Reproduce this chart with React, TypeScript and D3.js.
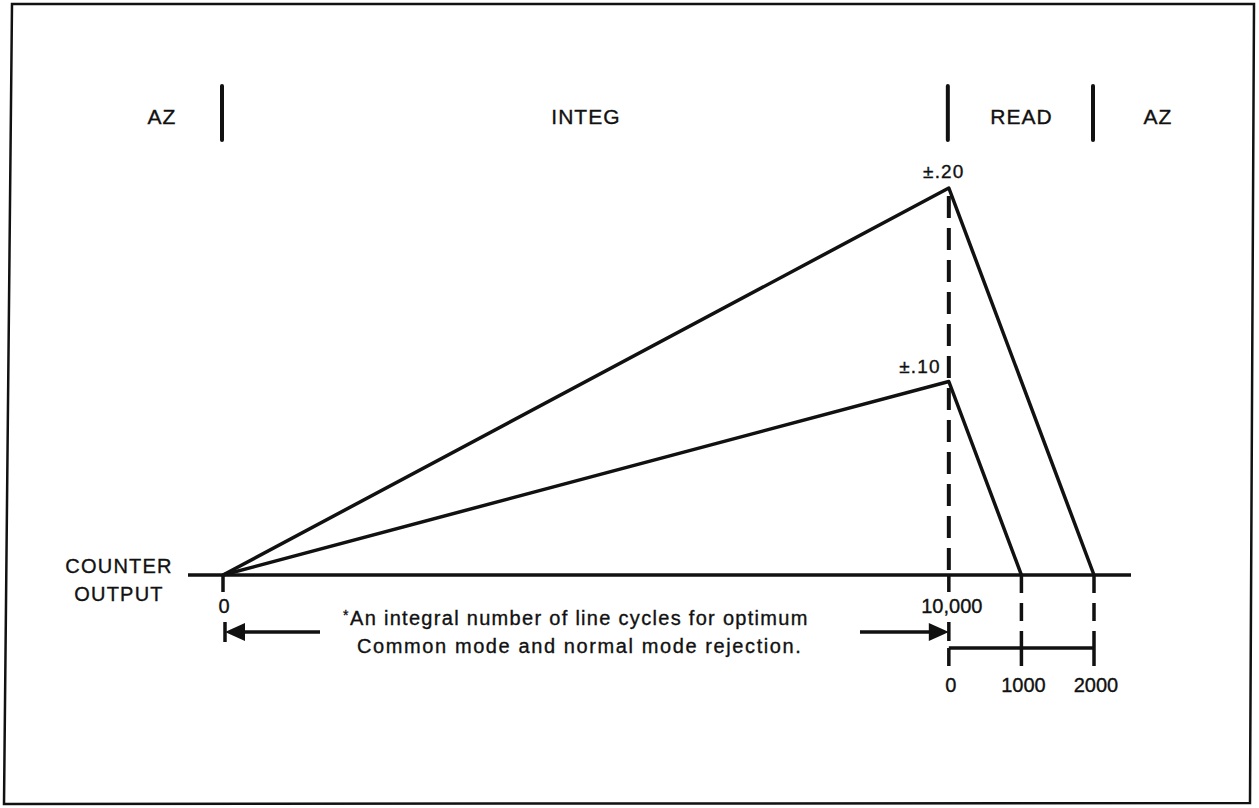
import React from "react";
import * as d3 from "d3";

// ---- data ----
const phaseNames = ["AZ", "INTEG", "READ", "AZ"];
const phaseBounds = [0, 10000, 12000]; // counts where phase changes
const upperSeries: [number, number][] = [[0, 0], [10000, 0.2], [12000, 0]];
const lowerSeries: [number, number][] = [[0, 0], [10000, 0.1], [11000, 0]];
const peakLabels = ["\u00B1.20", "\u00B1.10"];
const integTicks = [0, 10000];
const integTickLabels = ["0", "10,000"];
const readTicks = [0, 1000, 2000];
const readTickLabels = ["0", "1000", "2000"];
const yLabelLines = ["COUNTER", "OUTPUT"];
const noteLines = ["An integral number of line cycles for optimum", "Common mode and normal mode rejection."];

const W = 1259;
const H = 808;
const FONT = "'Liberation Sans', Arial, Helvetica, sans-serif";

export default function App() {
  const x = d3.scaleLinear().domain([0, 12000]).range([223, 1094]);
  const y = d3.scaleLinear().domain([0, 0.2]).range([575, 188]);
  const line = d3.line<[number, number]>().x((d) => x(d[0])).y((d) => y(d[1]));

  const baseY = y(0);
  const readStart = phaseBounds[1];
  const arrowY = 632;
  const bracketY = 648;

  const lx = x(0) + 2;
  const rx = x(10000);

  const txt = { fontFamily: FONT, fill: "#111", stroke: "#111", strokeWidth: 0.35 } as const;
  const SW = 3.5;

  return (
    <svg width={W} height={H} style={{ position: "absolute", left: 0, top: 0, background: "#fff" }}>
      {/* frame */}
      <path d="M12,4 L1254,4 L1250,803 L4,804 Z" fill="none" stroke="#111" strokeWidth={2.5} />

      {/* phase bars and labels */}
      {phaseBounds.map((b, i) => (
        <line key={"pb" + i} x1={x(b) - 1} x2={x(b) - 1} y1={86} y2={140} stroke="#111" strokeWidth={4} strokeLinecap="round" />
      ))}
      {phaseNames.map((n, i) => {
        const left = i === 0 ? x(0) - 122 : x(phaseBounds[i - 1]);
        const right = i === phaseNames.length - 1 ? x(12000) + 128 : x(phaseBounds[i]);
        return (
          <text key={"pn" + i} x={(left + right) / 2} y={124} textAnchor="middle" fontSize={21} letterSpacing={1} {...txt}>
            {n}
          </text>
        );
      })}

      {/* baseline */}
      <line x1={188} x2={1131} y1={baseY} y2={baseY} stroke="#111" strokeWidth={SW} />

      {/* dashed verticals */}
      <line x1={x(10000)} x2={x(10000)} y1={y(0.2) + 8} y2={baseY} stroke="#111" strokeWidth={4} strokeDasharray="22 10" />
      {readTicks.slice(1).map((t, i) => (
        <line key={"rd" + i} x1={x(readStart + t)} x2={x(readStart + t)} y1={baseY} y2={bracketY} stroke="#111" strokeWidth={3.5} strokeDasharray="18 10" />
      ))}

      {/* series */}
      <path d={line(upperSeries) || ""} fill="none" stroke="#111" strokeWidth={SW} strokeLinejoin="round" />
      <path d={line(lowerSeries) || ""} fill="none" stroke="#111" strokeWidth={SW} strokeLinejoin="round" />

      {/* peak labels */}
      <text x={x(10000) - 5} y={y(0.2) - 10} textAnchor="middle" fontSize={19} letterSpacing={1.2} {...txt}>
        {peakLabels[0]}
      </text>
      <text x={x(10000) - 8} y={y(0.1) - 9} textAnchor="end" fontSize={19} letterSpacing={1.2} {...txt}>
        {peakLabels[1]}
      </text>

      {/* integ ticks */}
      {integTicks.map((t, i) => (
        <g key={"it" + i}>
          <line x1={x(t)} x2={x(t)} y1={baseY} y2={592} stroke="#111" strokeWidth={SW} />
          <text x={x(t) + (i === 0 ? 1 : 3)} y={613} textAnchor="middle" fontSize={20} {...txt}>
            {integTickLabels[i]}
          </text>
        </g>
      ))}

      {/* y label */}
      {yLabelLines.map((l, i) => (
        <text key={"yl" + i} x={119} y={573 + i * 28} textAnchor="middle" fontSize={20} letterSpacing={1.2} {...txt}>
          {l}
        </text>
      ))}

      {/* arrows */}
      <line x1={lx} x2={lx} y1={arrowY - 10} y2={arrowY + 10} stroke="#111" strokeWidth={SW} />
      <path d={`M${lx},${arrowY} L${lx + 20},${arrowY - 9} L${lx + 20},${arrowY + 9} Z`} fill="#111" />
      <line x1={lx + 18} x2={320} y1={arrowY} y2={arrowY} stroke="#111" strokeWidth={SW} />

      <line x1={rx} x2={rx} y1={arrowY - 10} y2={arrowY + 9} stroke="#111" strokeWidth={SW} />
      <path d={`M${rx},${arrowY} L${rx - 20},${arrowY - 9} L${rx - 20},${arrowY + 9} Z`} fill="#111" />
      <line x1={860} x2={rx - 18} y1={arrowY} y2={arrowY} stroke="#111" strokeWidth={SW} />

      {/* note */}
      <text x={343} y={620} fontSize={14} {...txt}>*</text>
      {noteLines.map((l, i) => (
        <text key={"nl" + i} x={i === 0 ? 350 : 357} y={625 + i * 28} fontSize={20} letterSpacing={i === 0 ? 1.3 : 1.6} {...txt}>
          {l}
        </text>
      ))}

      {/* read bracket */}
      <line x1={x(readStart)} x2={x(readStart + 2000)} y1={bracketY} y2={bracketY} stroke="#111" strokeWidth={SW} />
      {readTicks.map((t, i) => (
        <g key={"rt" + i}>
          <line x1={x(readStart + t)} x2={x(readStart + t)} y1={bracketY} y2={666} stroke="#111" strokeWidth={SW} />
          <text x={x(readStart + t) + 2} y={692} textAnchor="middle" fontSize={20} {...txt}>
            {readTickLabels[i]}
          </text>
        </g>
      ))}
    </svg>
  );
}
